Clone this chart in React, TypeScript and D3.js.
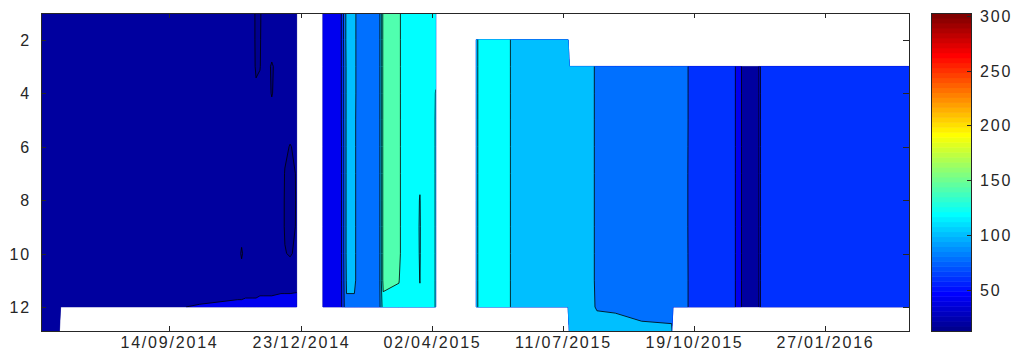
import React, { useMemo } from "react";
import * as d3 from "d3";

// ---------- data ----------
const N = null;
const depths = [1, 2, 3, 4, 5, 6, 7, 8, 9, 10, 11, 12, 13];

const sampleDates = [
  "2014-06-08", "2014-06-22", "2014-06-23", "2014-09-06", "2014-10-07", "2014-11-05",
  "2014-11-08", "2014-11-11", "2014-11-16", "2014-11-19", "2014-11-22", "2014-11-25",
  "2014-12-01", "2014-12-08", "2014-12-11", "2014-12-15", "2014-12-20", "2014-12-31",
  "2015-01-09", "2015-01-22", "2015-01-27", "2015-02-02", "2015-02-05", "2015-02-21",
  "2015-02-24", "2015-03-08", "2015-03-11", "2015-03-22", "2015-03-24", "2015-03-25",
  "2015-04-03", "2015-04-05", "2015-04-20",
  "2015-05-06", "2015-05-08", "2015-05-31", "2015-06-03", "2015-07-15",
  "2015-07-16", "2015-08-03", "2015-08-06", "2015-08-20", "2015-09-09", "2015-10-02",
  "2015-10-03", "2015-10-13", "2015-10-16", "2015-11-19", "2015-11-21", "2015-11-24",
  "2015-11-26", "2015-12-06", "2015-12-08", "2015-12-09", "2016-03-31",
];

// value profiles at depths 1..13 for each sample date (null = no data)
const profiles: (number | null)[][] = [
  [30, 30, 30, 30, 30, 30, 30, 30, 30, 30, 30, 31, 31],
  [30, 30, 30, 30, 30, 30, 30, 30, 30, 30, 30, 31, 31],
  [30, 30, 30, 30, 30, 30, 30, 30, 30, 30, 30, 31, N],
  [30, 30, 30, 30, 30, 30, 30, 30, 30, 30, 30, 38, N],
  [30, 30, 30, 30, 30, 30, 30, 30, 30, 30, 31, 41, N],
  [30, 30, 30, 30, 30, 30, 30, 30, 30, 30, 32, 43, N],
  [30, 30, 30, 30, 30, 30, 30, 30, 30, 17, 32, 43, N],
  [30, 30, 30, 30, 30, 30, 30, 30, 30, 30, 32, 44, N],
  [30, 30, 30, 30, 30, 30, 30, 30, 30, 30, 32, 44, N],
  [16, 16, 17, 24, 30, 30, 30, 30, 30, 30, 32, 44, N],
  [17, 18, 19, 26, 30, 30, 30, 30, 30, 30, 33, 45, N],
  [30, 30, 30, 30, 30, 30, 30, 30, 30, 30, 33, 45, N],
  [30, 30, 18, 19, 26, 30, 30, 30, 30, 30, 33, 45, N],
  [30, 30, 30, 30, 30, 30, 30, 30, 30, 30, 34, 46, N],
  [30, 30, 30, 30, 30, 24, 19, 18, 18, 21, 34, 46, N],
  [30, 30, 30, 30, 30, 19, 16, 15, 16, 18, 34, 46, N],
  [30, 30, 30, 30, 30, 24, 21, 21, 21, 24, 34, 47, N],
  [N, N, N, N, N, N, N, N, N, N, N, N, N],
  [44, 44, 44, 44, 44, 44, 44, 44, 44, 44, 44, 44, N],
  [48, 48, 48, 48, 48, 46, 46, 46, 46, 46, 46, 46, N],
  [106, 106, 104, 104, 104, 104, 104, 104, 104, 104, 102, 98, N],
  [105, 105, 105, 105, 104, 104, 104, 104, 104, 104, 104, 96, N],
  [92, 92, 92, 92, 92, 92, 92, 92, 92, 92, 92, 92, N],
  [92, 92, 92, 92, 92, 92, 92, 92, 92, 92, 92, 92, N],
  [146, 146, 146, 146, 146, 146, 146, 146, 146, 146, 146, 132, N],
  [147, 147, 147, 147, 147, 147, 147, 147, 147, 147, 141, 132, N],
  [128, 128, 128, 128, 128, 128, 128, 128, 128, 128, 128, 128, N],
  [128, 128, 128, 128, 128, 128, 128, 128, 128, 128, 128, 128, N],
  [128, 128, 128, 128, 128, 128, 128, 118, 116, 117, 119, 128, N],
  [128, 128, 128, 128, 128, 128, 128, 128, 128, 128, 128, 128, N],
  [127, 127, 127, 127, 127, 127, 127, 127, 127, 127, 127, 127, N],
  [127, 127, 127, 119, 118, 118, 118, 118, 118, 118, 118, 118, N],
  [N, N, N, N, N, N, N, N, N, N, N, N, N],
  [N, 112, 112, 112, 112, 112, 112, 112, 112, 112, 112, 112, N],
  [N, 126, 126, 126, 126, 126, 126, 126, 126, 126, 126, 126, N],
  [N, 126, 126, 126, 126, 126, 126, 126, 126, 126, 126, 126, N],
  [N, 108, 108, 108, 108, 108, 108, 108, 108, 108, 108, 108, N],
  [N, 106, 106, 106, 106, 106, 106, 106, 106, 106, 106, 106, N],
  [N, N, 105, 105, 105, 105, 105, 105, 105, 105, 105, 105, 106],
  [N, N, 104, 104, 104, 104, 104, 104, 104, 104, 104, 101, 106],
  [N, N, 92, 92, 92, 92, 92, 92, 92, 92, 92, 99, 106],
  [N, N, 91, 91, 91, 91, 91, 91, 91, 91, 91, 97, 110],
  [N, N, 90, 90, 90, 90, 90, 90, 90, 90, 90, 92, 107],
  [N, N, 90, 90, 90, 90, 90, 90, 90, 90, 90, 90, 106],
  [N, N, 90, 90, 90, 90, 90, 90, 90, 90, 90, 90, N],
  [N, N, 90, 90, 90, 89, 88, 88, 88, 89, 90, 90, N],
  [N, N, 70, 70, 70, 70, 70, 70, 70, 70, 70, 70, N],
  [N, N, 66, 66, 66, 66, 66, 66, 66, 66, 66, 66, N],
  [N, N, 45, 45, 45, 45, 45, 45, 45, 45, 45, 45, N],
  [N, N, 42, 42, 42, 42, 42, 42, 42, 42, 42, 42, N],
  [N, N, 25, 25, 25, 25, 25, 25, 25, 25, 25, 25, N],
  [N, N, 25, 25, 25, 25, 25, 25, 25, 25, 25, 25, N],
  [N, N, 45, 45, 45, 45, 45, 45, 45, 45, 45, 45, N],
  [N, N, 66, 66, 66, 66, 66, 66, 66, 66, 66, 66, N],
  [N, N, 66, 66, 66, 66, 66, 66, 66, 66, 66, 66, N],
];

const levels = [0, 20, 40, 60, 80, 100, 120, 140, 160, 180, 200, 220, 240, 260, 280, 300];
const dateTicks = ["2014-09-14", "2014-12-23", "2015-04-02", "2015-07-11", "2015-10-19", "2016-01-27"];
const depthTicks = [2, 4, 6, 8, 10, 12];
const colorTicks = [50, 100, 150, 200, 250, 300];
const colorRange = [12.5, 302.5];
const dateDomain = ["2014-06-08", "2016-03-31"];
const depthDomain = [1, 12.9];

// ---------- layout ----------
const W = 1011, H = 356;
const PL = 41, PR = 909, PT = 13, PB = 331;
const CBL = 931, CBR = 971;
const FONT = "'Liberation Sans', Arial, Helvetica, sans-serif";
const INK = "#262626";

function jetMap(m: number): string[] {
  const n = Math.ceil(m / 4);
  const u = [
    ...d3.range(1, n + 1).map((i) => i / n),
    ...d3.range(n - 1).map(() => 1),
    ...d3.range(n, 0, -1).map((i) => i / n),
  ];
  const g0 = Math.ceil(n / 2) - (m % 4 === 1 ? 1 : 0);
  const r = new Array(m).fill(0), g = new Array(m).fill(0), b = new Array(m).fill(0);
  u.forEach((val, k) => {
    const gi = g0 + k, ri = gi + n, bi = gi - n;
    if (gi >= 0 && gi < m) g[gi] = val;
    if (ri >= 0 && ri < m) r[ri] = val;
    if (bi >= 0 && bi < m) b[bi] = val;
  });
  return d3.range(m).map((i) => d3.rgb(r[i] * 255, g[i] * 255, b[i] * 255).formatHex());
}

export default function App() {
  const parse = d3.utcParse("%Y-%m-%d");
  const fmt = d3.utcFormat("%d/%m/%Y");
  const cmap = jetMap(64);
  const colorOf = (v: number) => {
    const idx = Math.floor(((v - colorRange[0]) / (colorRange[1] - colorRange[0])) * 64);
    return cmap[Math.max(0, Math.min(63, idx))];
  };

  const x = d3.scaleUtc().domain(dateDomain.map((d) => parse(d)!)).range([PL, PR]);
  const y = d3.scaleLinear().domain(depthDomain).range([PT, PB]);
  const cy = d3.scaleLinear().domain(colorRange).range([PB, PT]);

  const built = useMemo(() => {
    const n = sampleDates.length, m = depths.length;
    const sx = sampleDates.map((d) => x(parse(d)!));
    const mapX = (c: number) => {
      const s = c - 0.5;
      const i = Math.max(0, Math.min(n - 2, Math.floor(s)));
      const t = s - i;
      return sx[i] + t * (sx[i + 1] - sx[i]);
    };
    const mapY = (c: number) => y(depths[0] + (c - 0.5) * (depths[1] - depths[0]));
    const proj = d3.geoTransform({
      point(px: number, py: number) {
        (this as any).stream.point(mapX(px), mapY(py));
      },
    });
    const path = d3.geoPath(proj as any);

    // grid with missing values as very low numbers (blank in the fill)
    const fillGrid = new Array(n * m);
    for (let j = 0; j < m; j++)
      for (let i = 0; i < n; i++) {
        const v = profiles[i][j];
        fillGrid[j * n + i] = v == null ? -1e9 : v;
      }
    // grid with missing values filled from nearest data (for isolines)
    const filledCols: (number | null)[][] = profiles.map((col) => {
      if (col.every((v) => v == null)) return col;
      return col.map((v, j) => {
        if (v != null) return v;
        for (let k = 1; k < m; k++) {
          if (j - k >= 0 && col[j - k] != null) return col[j - k];
          if (j + k < m && col[j + k] != null) return col[j + k];
        }
        return 0;
      });
    });
    const lineCols = filledCols.map((col, i) => {
      if (col.some((v) => v != null)) return col as number[];
      for (let k = 1; k < n; k++) {
        if (i - k >= 0 && filledCols[i - k].some((v) => v != null)) return filledCols[i - k] as number[];
        if (i + k < n && filledCols[i + k].some((v) => v != null)) return filledCols[i + k] as number[];
      }
      return col as number[];
    });
    const lineGrid = new Array(n * m);
    for (let j = 0; j < m; j++) for (let i = 0; i < n; i++) lineGrid[j * n + i] = lineCols[i][j];

    const fills = d3.contours().size([n, m]).thresholds(levels)(fillGrid);
    const lines = d3.contours().size([n, m]).thresholds(levels.slice(1))(lineGrid);
    return {
      fills: fills.map((c) => ({ value: c.value, d: path(c as any) || "" })),
      lines: lines.map((c) => ({ value: c.value, d: path(c as any) || "" })),
      valid: path(fills[0] as any) || "",
    };
  }, []);

  const nColors = cmap.length;
  const step = (colorRange[1] - colorRange[0]) / nColors;
  const textStyle: React.CSSProperties = { fontFamily: FONT, fontSize: 16, letterSpacing: "1.8px" };

  return (
    <svg
      width={W}
      height={H}
      viewBox={`0 0 ${W} ${H}`}
      style={{ position: "absolute", left: 0, top: 0, background: "#fff" }}
    >
      <defs>
        <clipPath id="plotClip">
          <rect x={PL} y={PT} width={PR - PL} height={PB - PT} />
        </clipPath>
        <clipPath id="validClip">
          <path d={built.valid} />
        </clipPath>
      </defs>
      <rect x={0} y={0} width={W} height={H} fill="#fff" />
      <g clipPath="url(#plotClip)">
        {built.fills.map((f) => (
          <path key={"f" + f.value} d={f.d} fill={colorOf(f.value)} stroke={colorOf(f.value)} strokeWidth={0.3} />
        ))}
        <g clipPath="url(#validClip)">
          {built.lines.map((l) => (
            <path key={"l" + l.value} d={l.d} fill="none" stroke="#000" strokeWidth={0.9} strokeOpacity={0.9} />
          ))}
        </g>
      </g>
      {/* axes box */}
      <rect x={PL + 0.5} y={PT + 0.5} width={PR - PL} height={PB - PT} fill="none" stroke={INK} strokeWidth={1} />
      {dateTicks.map((t) => {
        const tx = Math.round(x(parse(t)!)) + 0.5;
        return (
          <g key={t}>
            <line x1={tx} x2={tx} y1={PB} y2={PB - 5} stroke={INK} />
            <line x1={tx} x2={tx} y1={PT} y2={PT + 5} stroke={INK} />
            <text x={tx} y={348} textAnchor="middle" fill={INK} style={textStyle}>
              {fmt(parse(t)!)}
            </text>
          </g>
        );
      })}
      {depthTicks.map((t) => {
        const ty = Math.round(y(t)) + 0.5;
        return (
          <g key={t}>
            <line x1={PL} x2={PL + 5} y1={ty} y2={ty} stroke={INK} />
            <line x1={PR} x2={PR - 6} y1={ty} y2={ty} stroke={INK} />
            <text x={31} y={ty} dy="0.35em" textAnchor="end" fill={INK} style={textStyle}>
              {t}
            </text>
          </g>
        );
      })}
      {/* colorbar */}
      {d3.range(nColors).map((i) => {
        const y0 = cy(colorRange[0] + (i + 1) * step);
        const y1 = cy(colorRange[0] + i * step);
        return <rect key={i} x={CBL} y={y0} width={CBR - CBL} height={y1 - y0 + 0.5} fill={cmap[i]} />;
      })}
      <rect x={CBL + 0.5} y={PT + 0.5} width={CBR - CBL} height={PB - PT} fill="none" stroke={INK} strokeWidth={1} />
      {colorTicks.map((t) => {
        const ty = Math.round(cy(t)) + 0.5;
        return (
          <g key={t}>
            <line x1={CBR} x2={CBR - 4} y1={ty} y2={ty} stroke={INK} />
            <text x={980} y={ty} dy="0.35em" textAnchor="start" fill={INK} style={textStyle}>
              {t}
            </text>
          </g>
        );
      })}
    </svg>
  );
}
